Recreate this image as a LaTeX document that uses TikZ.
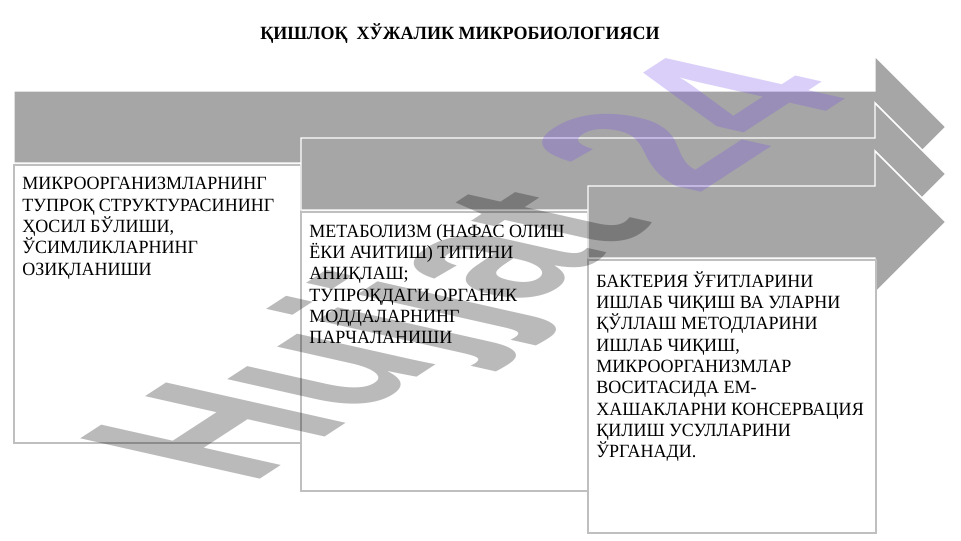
\documentclass[tikz,border=0pt]{standalone}
\usepackage{fontspec}
\setmainfont{Liberation Serif}[FakeStretch=0.965]
\newfontfamily\wmfont{Liberation Sans}
\definecolor{arrowgray}{HTML}{A6A6A6}
\definecolor{boxline}{HTML}{BFBFBF}
\definecolor{wmpurple}{RGB}{120,80,235}
\tikzset{
  arrowshape/.style={fill=arrowgray, draw=white, line width=1.1pt, line join=miter},
  textbox/.style={fill=white, draw=boxline, line width=0.8pt},
  bodytext/.style={anchor=north west, inner sep=0pt, align=left,
    font=\fontsize{14pt}{16pt}\selectfont},
  titletext/.style={anchor=base west, inner sep=0pt,
    font=\bfseries\fontsize{14pt}{16pt}\selectfont},
  wmtext/.style={transform shape, anchor=base west, inner sep=0pt,
    font=\wmfont\bfseries\fontsize{40pt}{40pt}\selectfont, text opacity=0.27}
}
\begin{document}
\begin{tikzpicture}[x=0.75pt,y=-0.75pt]
\useasboundingbox (0,0) rectangle (961,540);
\fill[white] (0,0) rectangle (961,540);

% title
\node[titletext] (title) at (260,39) {ҚИШЛОҚ\ \ ХЎЖАЛИК МИКРОБИОЛОГИЯСИ};

% arrow 1 and box 1
\draw[arrowshape] (14,91) -- (875,91) -- (875,56) -- (946,127) -- (875,198) -- (875,163) -- (14,163) -- cycle;
\draw[textbox] (14,165) coordinate (b1nw) rectangle (301,443) coordinate (b1se);
\node[bodytext] (t1) at (22,172.2) {\rule{0pt}{13pt}МИКРООРГАНИЗМЛАРНИНГ\\ТУПРОҚ СТРУКТУРАСИНИНГ\\ҲОСИЛ БЎЛИШИ,\\ЎСИМЛИКЛАРНИНГ\\ОЗИҚЛАНИШИ};

% arrow 2 and box 2
\draw[arrowshape] (301,138) -- (875,138) -- (875,103) -- (946,174) -- (875,245) -- (875,210) -- (301,210) -- cycle;
\draw[textbox] (301,212) coordinate (b2nw) rectangle (588,491) coordinate (b2se);
\node[bodytext] (t2) at (309,219.7) {\rule{0pt}{13pt}МЕТАБОЛИЗМ (НАФАС ОЛИШ\\ЁКИ АЧИТИШ) ТИПИНИ\\АНИҚЛАШ;\\ТУПРОҚДАГИ ОРГАНИК\\МОДДАЛАРНИНГ\\ПАРЧАЛАНИШИ};

% arrow 3 and box 3
\draw[arrowshape] (588,186) -- (875,186) -- (875,151) -- (946,222) -- (875,293) -- (875,258) -- (588,258) -- cycle;
\draw[textbox] (588,260) coordinate (b3nw) rectangle (876,533) coordinate (b3se);
\node[bodytext] (t3) at (596,269.7) {\rule{0pt}{13pt}БАКТЕРИЯ ЎҒИТЛАРИНИ\\ИШЛАБ ЧИҚИШ ВА УЛАРНИ\\ҚЎЛЛАШ МЕТОДЛАРИНИ\\ИШЛАБ ЧИҚИШ,\\МИКРООРГАНИЗМЛАР\\ВОСИТАСИДА ЕМ-\\ХАШАКЛАРНИ КОНСЕРВАЦИЯ\\ҚИЛИШ УСУЛЛАРИНИ\\ЎРГАНАДИ.};

% watermark
\begin{scope}[shift={(250,486)}, cm={2.7375,1.78125,-4.895,1.1,(0,0)}]
\node[wmtext] (wm) at (0,0) {\textcolor{black}{Hujjat} \textcolor{wmpurple}{24}};
\end{scope}
\end{tikzpicture}
\end{document}
